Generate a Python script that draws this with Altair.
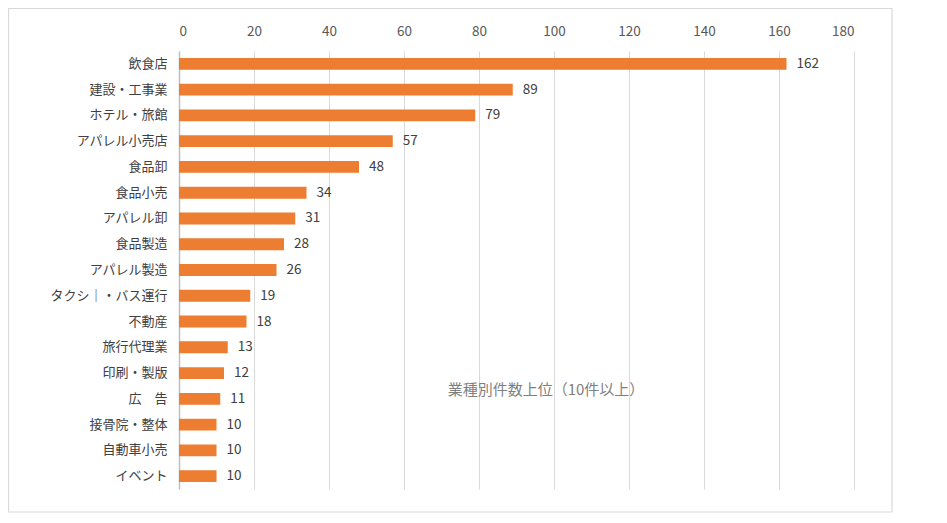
import altair as alt
import pandas as pd

categories = ["飲食店", "建設・工事業", "ホテル・旅館", "アパレル小売店", "食品卸", "食品小売",
              "アパレル卸", "食品製造", "アパレル製造", "タクシ｜・バス運行", "不動産", "旅行代理業",
              "印刷・製版", "広　告", "接骨院・整体", "自動車小売", "イベント"]
counts = [162, 89, 79, 57, 48, 34, 31, 28, 26, 19, 18, 13, 12, 11, 10, 10, 10]
x_ticks = [0, 20, 40, 60, 80, 100, 120, 140, 160, 180]
annotation = "業種別件数上位（10件以上）"

df = pd.DataFrame({"cat": categories, "n": counts})
FONT = "Noto Sans CJK JP"

xenc = alt.X("n:Q", scale=alt.Scale(domain=[0, 180], nice=False),
             axis=alt.Axis(orient="top", values=x_ticks, title=None, ticks=False, domain=False,
                           labelPadding=13, labelColor="#595959", labelFontSize=13.5, labelFont=FONT,
                           gridColor="#d9d9d9", gridWidth=1))
yenc = alt.Y("cat:N", sort=categories,
             scale=alt.Scale(paddingInner=0.54, paddingOuter=0.27),
             axis=alt.Axis(title=None, ticks=False, domain=True, domainColor="#bfbfbf", domainWidth=1.5,
                           labelPadding=12, labelColor="#404040", labelFontSize=13, labelFont=FONT,
                           grid=False))

base = alt.Chart(df)
bars = base.mark_bar(color="#ED7D31").encode(x=xenc, y=yenc)
labels = base.mark_text(align="left", baseline="middle", dx=10, fontSize=13.5, font=FONT,
                        color="#404040").encode(x="n:Q", y=alt.Y("cat:N", sort=categories), text="n:Q")

one = alt.Chart(pd.DataFrame({"t": [annotation]}))
note = one.mark_text(align="center", baseline="middle", fontSize=15, font=FONT, color="#7f7f7f").encode(
    x=alt.value(367), y=alt.value(339), text="t:N")
frame = one.mark_rect(fill=None, stroke="#d9d9d9", strokeWidth=1.2).encode(
    x=alt.value(-170.5), x2=alt.value(713), y=alt.value(-42.5), y2=alt.value(461))

chart = alt.layer(frame, bars, labels, note).properties(
    width=675, height=438,
    background="white",
    autosize=alt.AutoSizeParams(type="none"),
    padding={"left": 171, "top": 43, "right": 85, "bottom": 26},
).configure_view(stroke=None)

chart.save("out.html", embed_options={"renderer": "svg", "actions": False})
